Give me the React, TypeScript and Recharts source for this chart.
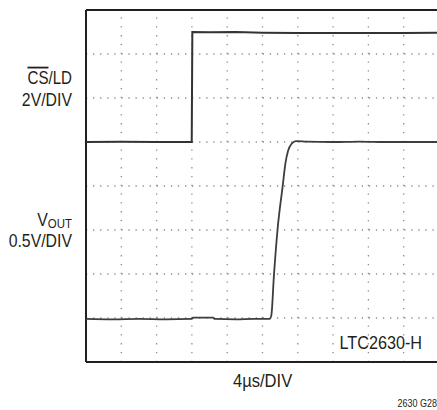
import React from "react";
import { Line, LineChart, ReferenceLine, XAxis, YAxis } from "recharts";

// time axis: 4µs/DIV, 10 divisions
const timeTicks = [0, 4, 8, 12, 16, 20, 24, 28, 32, 36, 40];
// CS/LD channel graticule, 2V/DIV over 8 divisions
const csTicks = [-10, -8, -6, -4, -2, 0, 2, 4, 6];

// CS/LD trace (V, 2V/DIV)
const csTime = [0, 4, 8, 11.98, 12.05, 14, 17, 20, 24, 28, 32, 36, 40];
const csVolts = [0, 0.01, 0, 0, 5.0, 4.99, 5.0, 4.97, 4.96, 4.95, 4.96, 4.96, 4.97];

// VOUT trace (V, 0.5V/DIV)
const voutTime = [
  0, 3, 6, 9, 11.95, 12.15, 14.4, 14.6, 17, 19, 20.8, 21.0, 21.3, 21.7, 22.3,
  22.6, 22.9, 23.3, 23.8, 25, 28, 31, 34, 37, 40,
];
const voutVolts = [
  0.99, 0.985, 0.99, 0.985, 0.99, 1.004, 1.004, 0.99, 0.985, 0.99, 0.99, 1.03,
  1.49, 2.0, 2.51, 2.76, 2.9, 2.98, 3.01, 3.005, 3.0, 3.005, 3.0, 3.0, 3.0,
];

const csData = csTime.map((t, i) => ({ t, v: csVolts[i] }));
const voutData = voutTime.map((t, i) => ({ t, v: voutVolts[i] }));

const FONT = '"Liberation Sans", Arial, sans-serif';
const INK = "#231f20";
const GRID = "#8c8c8c";

// condensed label: Liberation Sans squeezed horizontally
function Label({
  x,
  y,
  size = 18,
  anchor = "end",
  squeeze = 0.88,
  children,
}: {
  x: number;
  y: number;
  size?: number;
  anchor?: "start" | "end";
  squeeze?: number;
  children: React.ReactNode;
}) {
  return (
    <g transform={`translate(${x},${y}) scale(${squeeze},1)`}>
      <text x={0} y={0} fontSize={size} textAnchor={anchor}>
        {children}
      </text>
    </g>
  );
}

export default function App() {
  return (
    <div
      style={{
        position: "relative",
        width: 437,
        height: 410,
        overflow: "hidden",
        background: "#fff",
      }}
    >
      <style>{"body{margin:0}"}</style>
      <LineChart
        width={440}
        height={410}
        margin={{ top: 10, right: 1, bottom: 48, left: 86 }}
      >
        <XAxis
          xAxisId="time"
          type="number"
          dataKey="t"
          domain={[0, 40]}
          ticks={timeTicks}
          hide
        />
        <YAxis yAxisId="cs" type="number" domain={[-10, 6]} ticks={csTicks} hide />
        <YAxis yAxisId="vout" type="number" domain={[0.5, 4.5]} hide />
        {csTicks.map((d) => (
          <ReferenceLine
            key={`h${d}`}
            xAxisId="time"
            yAxisId="cs"
            y={d}
            stroke={GRID}
            strokeWidth={1.3}
            strokeDasharray="1.3 5.77"
          />
        ))}
        {timeTicks.map((t) => (
          <ReferenceLine
            key={`v${t}`}
            xAxisId="time"
            yAxisId="cs"
            x={t}
            stroke={GRID}
            strokeWidth={1.3}
            strokeDasharray="1.3 7.5"
          />
        ))}
        <ReferenceLine xAxisId="time" yAxisId="cs" y={6} stroke={INK} strokeWidth={2} />
        <ReferenceLine xAxisId="time" yAxisId="cs" y={-10} stroke={INK} strokeWidth={2} />
        <ReferenceLine xAxisId="time" yAxisId="cs" x={0} stroke={INK} strokeWidth={2} />
        <Line
          data={csData}
          xAxisId="time"
          yAxisId="cs"
          dataKey="v"
          type="linear"
          stroke="#333"
          strokeWidth={2}
          dot={false}
          isAnimationActive={false}
        />
        <Line
          data={voutData}
          xAxisId="time"
          yAxisId="vout"
          dataKey="v"
          type="monotone"
          stroke="#3d3d3d"
          strokeWidth={1.8}
          dot={false}
          isAnimationActive={false}
        />
      </LineChart>
      <svg
        width={437}
        height={410}
        style={{ position: "absolute", left: 0, top: 0, pointerEvents: "none" }}
        fontFamily={FONT}
        fill={INK}
      >
        <Label x={72} y={84} squeeze={0.84}>
          <tspan style={{ textDecoration: "overline" }}>CS</tspan>/LD
        </Label>
        <Label x={72} y={106}>
          2V/DIV
        </Label>
        <Label x={72} y={226}>
          V
          <tspan fontSize={13} dy={2}>
            OUT
          </tspan>
        </Label>
        <Label x={72} y={247}>
          0.5V/DIV
        </Label>
        <Label x={422} y={349} squeeze={0.9}>
          LTC2630-H
        </Label>
        <Label x={233} y={387} anchor="start" squeeze={0.92}>
          4µs/DIV
        </Label>
        <Label x={437} y={407} size={10} squeeze={0.9}>
          2630 G28
        </Label>
      </svg>
    </div>
  );
}
